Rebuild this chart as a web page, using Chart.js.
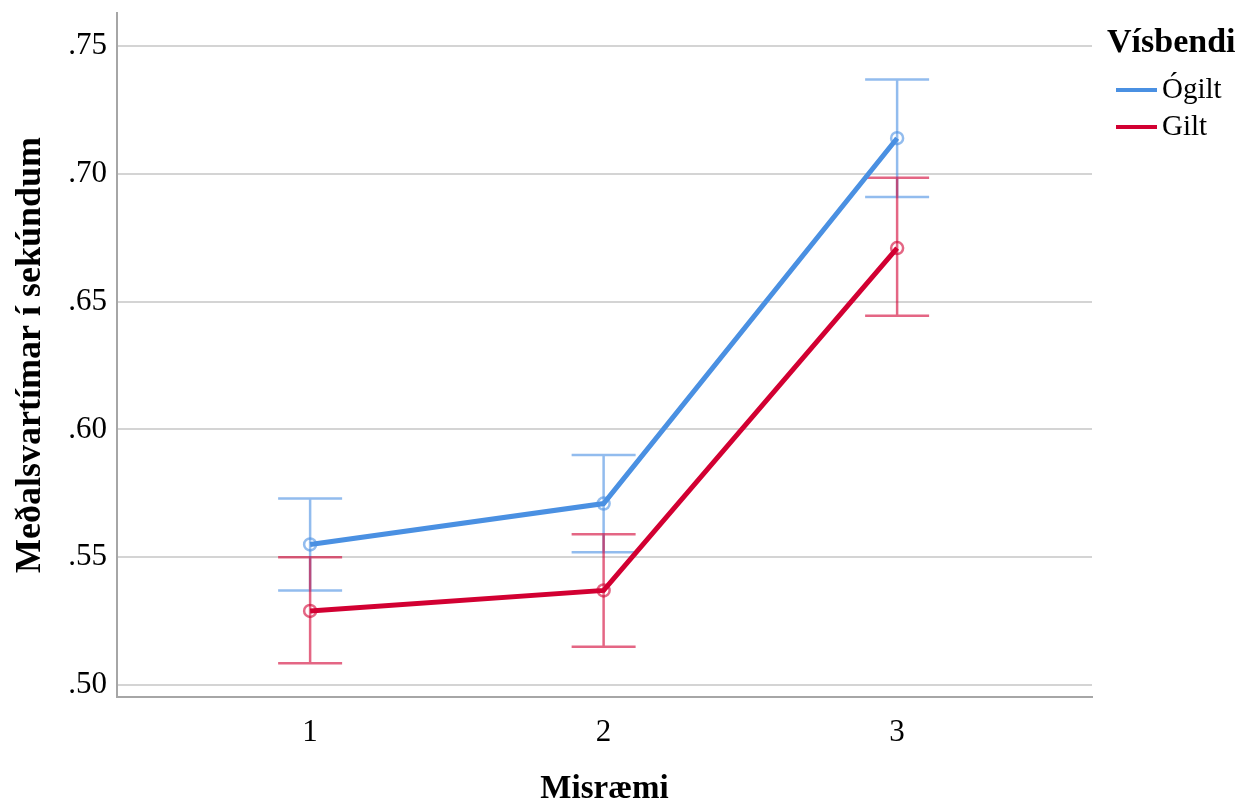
<!DOCTYPE html>
<html lang="is">
<head>
    <meta charset="UTF-8">
    <title>Meðalsvartímar</title>
    <style>
        html, body { margin: 0; padding: 0; background: #fff; }
        #wrap { width: 1248px; height: 806px; }
    </style>
</head>
<body>
    <div id="wrap">
        <canvas id="myChart"></canvas>
    </div>
    <script src="https://cdn.jsdelivr.net/npm/chart.js"></script>
    <script>
        // gögn lesin af myndinni
        const v_misraemi = [1, 2, 3];
        const v_ogilt = [0.555, 0.571, 0.714];
        const v_ogiltLow = [0.537, 0.552, 0.691];
        const v_ogiltHigh = [0.573, 0.590, 0.737];
        const v_gilt = [0.529, 0.537, 0.671];
        const v_giltLow = [0.5085, 0.515, 0.6445];
        const v_giltHigh = [0.550, 0.559, 0.6985];
        const v_yTicks = [0.50, 0.55, 0.60, 0.65, 0.70, 0.75];
        const v_yLabels = ['.50', '.55', '.60', '.65', '.70', '.75'];
        const v_xLabels = ['1', '2', '3'];

        const c_blue = 'rgb(74,144,226)';
        const c_blueLight = 'rgba(74,144,226,0.6)';
        const c_red = 'rgb(210,0,50)';
        const c_redLight = 'rgba(210,0,50,0.6)';
        const f_serif = '"Liberation Serif", "Times New Roman", serif';

        function f_points(p_vals) {
            return v_misraemi.map((x, i) => ({ x: x, y: p_vals[i] }));
        }

        // villustikur teiknaðar með kvörðum grafsins
        const p_errorBars = {
            id: 'errorBars',
            beforeDatasetsDraw(chart) {
                const ctx = chart.ctx;
                const xs = chart.scales.x, ys = chart.scales.y;
                const bars = [
                    [v_ogiltLow, v_ogiltHigh, c_blueLight],
                    [v_giltLow, v_giltHigh, c_redLight]
                ];
                ctx.save();
                ctx.lineWidth = 2.5;
                bars.forEach(b => {
                    ctx.strokeStyle = b[2];
                    v_misraemi.forEach((m, i) => {
                        const px = xs.getPixelForValue(m);
                        const lo = ys.getPixelForValue(b[0][i]);
                        const hi = ys.getPixelForValue(b[1][i]);
                        ctx.beginPath();
                        ctx.moveTo(px, lo); ctx.lineTo(px, hi);
                        ctx.moveTo(px - 32, lo); ctx.lineTo(px + 32, lo);
                        ctx.moveTo(px - 32, hi); ctx.lineTo(px + 32, hi);
                        ctx.stroke();
                    });
                });
                ctx.restore();
            }
        };

        // skýringar til hægri
        const p_legend = {
            id: 'sideLegend',
            afterDraw(chart) {
                const ctx = chart.ctx;
                ctx.save();
                ctx.fillStyle = '#000';
                ctx.textBaseline = 'middle';
                ctx.textAlign = 'left';
                ctx.font = 'bold 34px ' + f_serif;
                ctx.fillText('Vísbendi', 1107, 43);
                ctx.font = '29px ' + f_serif;
                chart.data.datasets.forEach((ds, i) => {
                    const y = 90 + i * 37;
                    ctx.strokeStyle = ds.borderColor;
                    ctx.lineWidth = 4;
                    ctx.beginPath();
                    ctx.moveTo(1116, y); ctx.lineTo(1157, y);
                    ctx.stroke();
                    ctx.fillText(ds.label, 1162, y);
                });
                ctx.restore();
            }
        };

        const ctx = document.getElementById('myChart');
        const myChart = new Chart(ctx, {
            type: 'line',
            data: {
                datasets: [{
                    label: 'Ógilt',
                    data: f_points(v_ogilt),
                    borderColor: c_blue,
                    borderWidth: 5,
                    pointRadius: 6,
                    pointBorderWidth: 2.5,
                    pointBorderColor: c_blueLight,
                    pointBackgroundColor: 'rgba(0,0,0,0)',
                    tension: 0
                }, {
                    label: 'Gilt',
                    data: f_points(v_gilt),
                    borderColor: c_red,
                    borderWidth: 5,
                    pointRadius: 6,
                    pointBorderWidth: 2.5,
                    pointBorderColor: c_redLight,
                    pointBackgroundColor: 'rgba(0,0,0,0)',
                    tension: 0
                }]
            },
            options: {
                responsive: true,
                maintainAspectRatio: false,
                animation: false,
                layout: { padding: { top: 13, right: 156, left: 0, bottom: 0 } },
                plugins: {
                    legend: { display: false },
                    tooltip: { enabled: false }
                },
                scales: {
                    x: {
                        type: 'linear',
                        min: 0.342,
                        max: 3.664,
                        afterBuildTicks: s => { s.ticks = v_misraemi.map(v => ({ value: v })); },
                        afterFit: s => { s.height = 109; s.paddingLeft = 0; s.paddingRight = 0; },
                        grid: { display: false, drawTicks: false },
                        border: { display: true, color: '#a6a6a6', width: 2 },
                        ticks: {
                            padding: 17,
                            color: '#000',
                            font: { family: f_serif, size: 31 },
                            callback: (v, i) => v_xLabels[i]
                        },
                        title: {
                            display: true,
                            text: 'Misræmi',
                            color: '#000',
                            padding: 0,
                            font: { family: f_serif, size: 33, weight: 'bold', lineHeight: 1 }
                        }
                    },
                    y: {
                        min: 0.4953,
                        max: 0.763,
                        afterBuildTicks: s => { s.ticks = v_yTicks.map(v => ({ value: v })); },
                        afterFit: s => { s.width = 117; s.paddingTop = 0; s.paddingBottom = 0; },
                        grid: { color: '#d4d4d4', lineWidth: 2, drawTicks: false },
                        border: { display: true, color: '#a6a6a6', width: 2 },
                        ticks: {
                            padding: 10,
                            color: '#000',
                            font: { family: f_serif, size: 31 },
                            callback: (v, i) => v_yLabels[i]
                        },
                        title: {
                            display: true,
                            text: 'Meðalsvartímar í sekúndum',
                            color: '#000',
                            padding: { top: 13, bottom: 0 },
                            font: { family: f_serif, size: 36, weight: 'bold', lineHeight: 1 }
                        }
                    }
                }
            },
            plugins: [p_errorBars, p_legend]
        });
    </script>
</body>
</html>
